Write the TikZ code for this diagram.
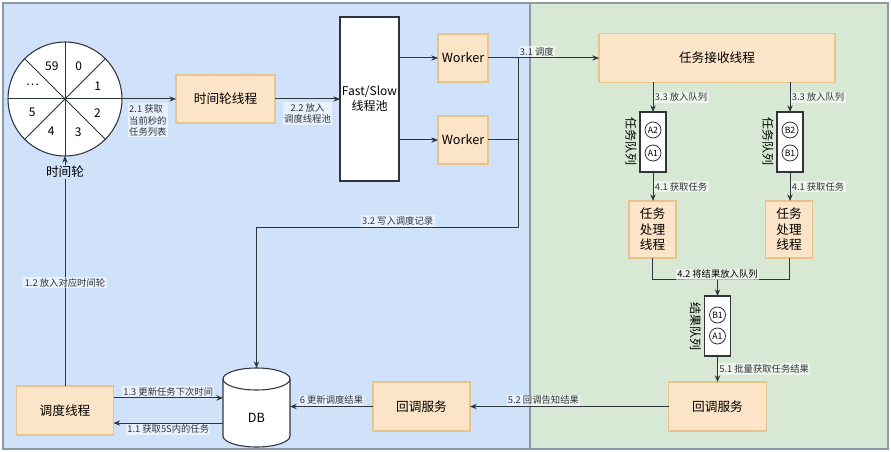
\documentclass[tikz,border=0pt]{standalone}
\usepackage{fontspec}
\setmainfont{Noto Sans CJK SC}
\usetikzlibrary{arrows.meta,positioning,calc,shapes.geometric}
\definecolor{panelblue}{HTML}{CFE2FA}
\definecolor{panelgreen}{HTML}{D7E8D5}
\definecolor{panelline}{HTML}{8C9BA3}
\definecolor{procfill}{HTML}{FCE4C8}
\definecolor{procline}{HTML}{E6C48E}
\definecolor{flowline}{HTML}{30353C}

\begin{document}
\begin{tikzpicture}[
    x=0.75pt, y=-0.75pt,
    panel/.style={draw=panelline, line width=1pt},
    proc/.style 2 args={rectangle, draw=procline, fill=procfill, line width=0.8pt, minimum width=#1*0.75pt, minimum height=#2*0.75pt, inner sep=0pt, outer sep=0pt, align=center, font=\fontsize{9.5}{11.5}\selectfont},
    poolbox/.style={rectangle, draw=flowline, fill=white, line width=0.8pt, minimum width=44.25pt, minimum height=123pt, inner sep=0pt, outer sep=0pt, align=center, font=\fontsize{9}{11}\selectfont},
    dbstore/.style={rectangle, minimum width=50.25pt, minimum height=59.25pt, inner sep=0pt, outer sep=0pt},
    dbline/.style={draw=flowline, fill=white, line width=0.8pt},
    queue/.style={rectangle, draw=flowline, fill=white, line width=0.8pt, minimum width=19.5pt, minimum height=45pt, inner sep=0pt, outer sep=0pt},
    item/.style={circle, draw=flowline, fill=white, line width=0.6pt, minimum size=12pt, inner sep=0pt, font=\fontsize{6.5}{7}\selectfont},
    qlbl/.style={rotate=-90, anchor=north, inner sep=1pt, font=\fontsize{9}{10}\selectfont},
    wnum/.style={inner sep=0pt, font=\fontsize{9}{10}\selectfont},
    lbl/.style={fill=white, fill opacity=0.55, text opacity=1, inner sep=1pt, align=left, font=\fontsize{7}{8.5}\selectfont},
    arrow/.style={-{Stealth[length=5pt,width=4pt]}, flowline, line width=0.75pt},
    flow/.style={flowline, line width=0.75pt},
]
\useasboundingbox (0,0) rectangle (891,452);
% panels
\draw[panel, fill=panelblue] (3,3) rectangle (530,449);
\draw[panel, fill=panelgreen] (530,3) rectangle (888,449);

% time wheel
\node[circle, draw=flowline, fill=white, line width=0.8pt, minimum size=85.5pt, inner sep=0pt, outer sep=0pt] (wheel) at (65,99) {};
\foreach \a/\b in {0/180,45/225,90/270,135/315}
    \draw[flow] (wheel.\a) -- (wheel.\b);
\fill[flowline] (wheel.center) circle (1pt);
\foreach \a/\t [count=\i] in {112.5/59, 67.5/0, 22.5/1, 337.5/2, 292.5/3, 247.5/4, 202.5/5, 157.5/{\ldots}}
    \node[wnum] (sec\i) at ($(wheel.center)!0.62!(wheel.\a)$) {\t};

% left side
\node[proc={99}{48}] (twthread) at (225.5,99) {时间轮线程};
\node[poolbox] (pool) at (369.5,99) {Fast/Slow\\线程池};
\node[proc={50}{48}] (worker1) at (463,58) {Worker};
\node[proc={50}{48}] (worker2) at (463,140) {Worker};
\node[proc={97}{49}] (sched) at (65,410.5) {调度线程};
\node[dbstore] (db) at (256.5,407.5) {};
\draw[dbline] ($(db.north west)+(0,11)$) arc[start angle=180, end angle=0, x radius=25.125pt, y radius=8.25pt]
    -- ($(db.south east)+(0,-11)$) arc[start angle=0, end angle=-180, x radius=25.125pt, y radius=8.25pt] -- cycle;
\draw[dbline, fill=none] ($(db.north west)+(0,11)$) arc[start angle=180, end angle=360, x radius=25.125pt, y radius=8.25pt];
\node[font=\fontsize{9.5}{11}\selectfont] (dbtxt) at ($(db.center)+(0,10)$) {DB};
\node[proc={97}{49}] (cbl) at (421.5,406.5) {回调服务};

% right side
\node[proc={236}{49}] (recv) at (717,58) {任务接收线程};
\node[queue] (qa) at (653,142) {};
\node[item] (qa2) at ($(qa.center)+(0,-12)$) {A2};
\node[item] (qa1) at ($(qa.center)+(0,11)$) {A1};
\node[qlbl] (qalbl) at ([xshift=-1.5pt]qa.west) {任务队列};
\node[queue] (qb) at (790,142) {};
\node[item] (qb2) at ($(qb.center)+(0,-12)$) {B2};
\node[item] (qb1) at ($(qb.center)+(0,11)$) {B1};
\node[qlbl] (qblbl) at ([xshift=-1.5pt]qb.west) {任务队列};
\node[proc={47}{57}] (pa) at (652.5,229.5) {任务\\处理\\线程};
\node[proc={47}{57}] (pb) at (789,229.5) {任务\\处理\\线程};
\node[queue] (rq) at (717.5,326) {};
\node[item] (rqb1) at ($(rq.center)+(0,-11)$) {B1};
\node[item] (rqa1) at ($(rq.center)+(0,10)$) {A1};
\node[qlbl] (rqlbl) at ([xshift=-1.5pt]rq.west) {结果队列};
\node[proc={98}{49}] (cbr) at (717.5,406.5) {回调服务};

\coordinate (jn) at (518,58);
\coordinate (wr) at (518,227);
\coordinate (mrg) at (717.5,279);

% flows
\draw[arrow] (wheel.east) -- (twthread.west) node[lbl, anchor=north west, pos=0.1, yshift=-3pt] {2.1 获取\\当前秒的\\任务列表};
\draw[arrow] (twthread.east) -- (pool.west) node[lbl, below, midway, align=center, yshift=-2pt] {2.2 放入\\调度线程池};
\draw[arrow] (worker1.west -| pool.east) -- (worker1.west);
\draw[arrow] (worker2.west -| pool.east) -- (worker2.west);
\draw[arrow] (worker1.east) -- (recv.west) node[lbl, above, pos=0.44] {3.1 调度};
\draw[flow] (worker2.east) -| (jn);
\draw[arrow] (jn) -- (wr) -| (db.north) node[lbl, above, pos=0.23] {3.2 写入调度记录};
\draw[arrow] (sched.north) -- (wheel.south) node[lbl, pos=0.45] {1.2 放入对应时间轮};
\node[fill=panelblue, inner sep=1pt, font=\fontsize{9.5}{11}\selectfont] (wheellbl) at (65,172) {时间轮};
\draw[arrow] ([yshift=9.4pt]sched.east) -- ([yshift=9.4pt]sched.east -| db.west) node[lbl, above, midway] {1.3 更新任务下次时间};
\draw[arrow] ([yshift=-9.4pt]sched.east -| db.west) -- ([yshift=-9.4pt]sched.east) node[lbl, below, midway] {1.1 获取5S内的任务};
\draw[arrow] (cbl.west) -- (cbl.west -| db.east) node[lbl, above, midway] {6 更新调度结果};
\draw[arrow] (cbr.west) -- (cbl.east) node[lbl, above, pos=0.63] {5.2 回调告知结果};
\draw[arrow] (qa.north |- recv.south) -- (qa.north) node[lbl, right, midway] {3.3 放入队列};
\draw[arrow] (qb.north |- recv.south) -- (qb.north) node[lbl, right, midway] {3.3 放入队列};
\draw[arrow] (qa.south) -- (pa.north -| qa.south) node[lbl, right, midway] {4.1 获取任务};
\draw[arrow] (qb.south) -- (pb.north -| qb.south) node[lbl, right, midway] {4.1 获取任务};
\draw[flow] (pa.south) |- (mrg) -| (pb.south);
\draw[arrow] (mrg) -- (rq.north);
\node[lbl, above=-1pt of mrg] (mrglbl) {4.2 将结果放入队列};
\draw[arrow] (rq.south) -- (cbr.north) node[lbl, right, midway] {5.1 批量获取任务结果};
\end{tikzpicture}
\end{document}
